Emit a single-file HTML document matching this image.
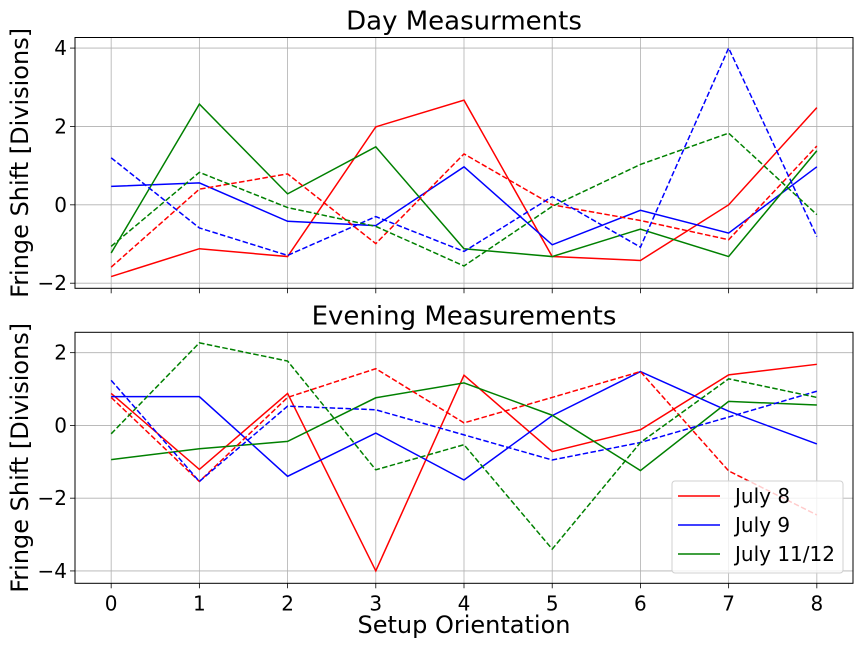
<!DOCTYPE html>
<html><head><meta charset="utf-8"><style>
body{margin:0;background:#fff;}
svg{display:block;font-family:"DejaVu Sans","Liberation Sans",sans-serif;}
</style></head><body>
<svg id="chart" width="864" height="648" viewBox="0 0 864 648"></svg>
<script>
const categories=[0,1,2,3,4,5,6,7,8];
const seriesNames=["July 8","July 9","July 11/12"];
const colors=["#ff0000","#0000ff","#008000"];
const dayJuly8=[-1.83,-1.12,-1.32,1.99,2.67,-1.32,-1.42,0.0,2.48];
const dayJuly8b=[-1.59,0.40,0.79,-0.99,1.30,0.0,-0.40,-0.89,1.50];
const dayJuly9=[0.47,0.56,-0.42,-0.53,0.97,-1.02,-0.14,-0.72,0.97];
const dayJuly9b=[1.20,-0.59,-1.29,-0.30,-1.19,0.21,-1.08,4.0,-0.81];
const dayJuly11=[-1.23,2.57,0.28,1.48,-1.12,-1.32,-0.62,-1.32,1.38];
const dayJuly11b=[-1.06,0.83,-0.07,-0.55,-1.56,-0.04,1.03,1.83,-0.25];
const eveJuly8=[0.88,-1.21,0.88,-4.0,1.38,-0.72,-0.12,1.39,1.68];
const eveJuly8b=[0.77,-1.54,0.77,1.56,0.07,0.77,1.48,-1.25,-2.46];
const eveJuly9=[0.79,0.79,-1.40,-0.21,-1.50,0.27,1.48,0.39,-0.51];
const eveJuly9b=[1.24,-1.54,0.53,0.43,-0.26,-0.95,-0.47,0.23,0.94];
const eveJuly11=[-0.94,-0.64,-0.44,0.76,1.17,0.28,-1.24,0.66,0.56];
const eveJuly11b=[-0.23,2.27,1.77,-1.22,-0.53,-3.40,-0.47,1.28,0.77];
const dayTicks=[-2,0,2,4];
const eveTicks=[-4,-2,0,2];
const xTicks=[0,1,2,3,4,5,6,7,8];

const NS="http://www.w3.org/2000/svg";
const svg=document.getElementById("chart");
function mk(tag,attrs,parent){const e=document.createElementNS(NS,tag);for(const k in attrs)e.setAttribute(k,attrs[k]);(parent||svg).appendChild(e);return e;}
const L=75,R=853;
function xs(v){return L+(v+0.41)/8.82*(R-L);}

function panel(name,top,bottom,ymin,ymax,ticks,solid,dashed,title,showX){
  const g=mk("g",{});
  
  
  const ys=v=>bottom-(v-ymin)/(ymax-ymin)*(bottom-top);
  xTicks.forEach(t=>{const l=mk("line",{x1:xs(t),x2:xs(t),y1:top,y2:bottom,stroke:"#b0b0b0","stroke-width":0.8},g);
    
    mk("line",{x1:xs(t),x2:xs(t),y1:bottom,y2:bottom+5,stroke:"#000","stroke-width":0.8},g);
    if(showX){const tx=mk("text",{x:xs(t),y:bottom+27,"text-anchor":"middle","font-size":20},g);tx.textContent=t;
      }
  });
  ticks.forEach(t=>{const l=mk("line",{x1:L,x2:R,y1:ys(t),y2:ys(t),stroke:"#b0b0b0","stroke-width":0.8},g);
    
    mk("line",{x1:L-5,x2:L,y1:ys(t),y2:ys(t),stroke:"#000","stroke-width":0.8},g);
    const tx=mk("text",{x:L-8,y:ys(t)+7,"text-anchor":"end","font-size":20},g);tx.textContent=(t<0?"\u2212"+(-t):t);
    
  });
  const draw=(arr,c,dash,nm)=>{const p=mk("polyline",{points:arr.map((v,i)=>xs(categories[i])+","+ys(v)).join(" "),fill:"none",stroke:c,"stroke-width":1.5},g);
    if(dash)p.setAttribute("stroke-dasharray","5.5,2.4");
    };
  solid.forEach((a,i)=>draw(a,colors[i],false,"line-"+i+"-solid"));
  dashed.forEach((a,i)=>draw(a,colors[i],true,"line-"+i+"-dashed"));
  const fr=mk("rect",{x:L,y:top,width:R-L,height:bottom-top,fill:"none",stroke:"#000","stroke-width":1},g);
  
  const tt=mk("text",{x:(L+R)/2,y:top-8,"text-anchor":"middle","font-size":26},g);tt.textContent=title;
  
  const yl=mk("text",{x:0,y:0,"text-anchor":"middle","font-size":24,transform:`translate(28,${(top+bottom)/2}) rotate(-90)`},g);yl.textContent="Fringe Shift [Divisions]";
  
}
panel("day-panel",37.5,288.3,-2.13,4.27,dayTicks,[dayJuly8,dayJuly9,dayJuly11],[dayJuly8b,dayJuly9b,dayJuly11b],"Day Measurments",false);
panel("evening-panel",332.3,583.3,-4.34,2.56,eveTicks,[eveJuly8,eveJuly9,eveJuly11],[eveJuly8b,eveJuly9b,eveJuly11b],"Evening Measurements",true);
const xl=mk("text",{x:(L+R)/2,y:633,"text-anchor":"middle","font-size":24});xl.textContent="Setup Orientation";

const lg=mk("g",{});


mk("rect",{x:672,y:481,width:171,height:92,rx:3,fill:"rgba(255,255,255,0.8)",stroke:"#d0d0d0"},lg);
seriesNames.forEach((n,i)=>{const y=496+i*29;
  mk("line",{x1:678,x2:720,y1:y,y2:y,stroke:colors[i],"stroke-width":1.5},lg);
  const t=mk("text",{x:735,y:y+7,"font-size":20},lg);t.textContent=n;
  });
</script>
</body></html>
